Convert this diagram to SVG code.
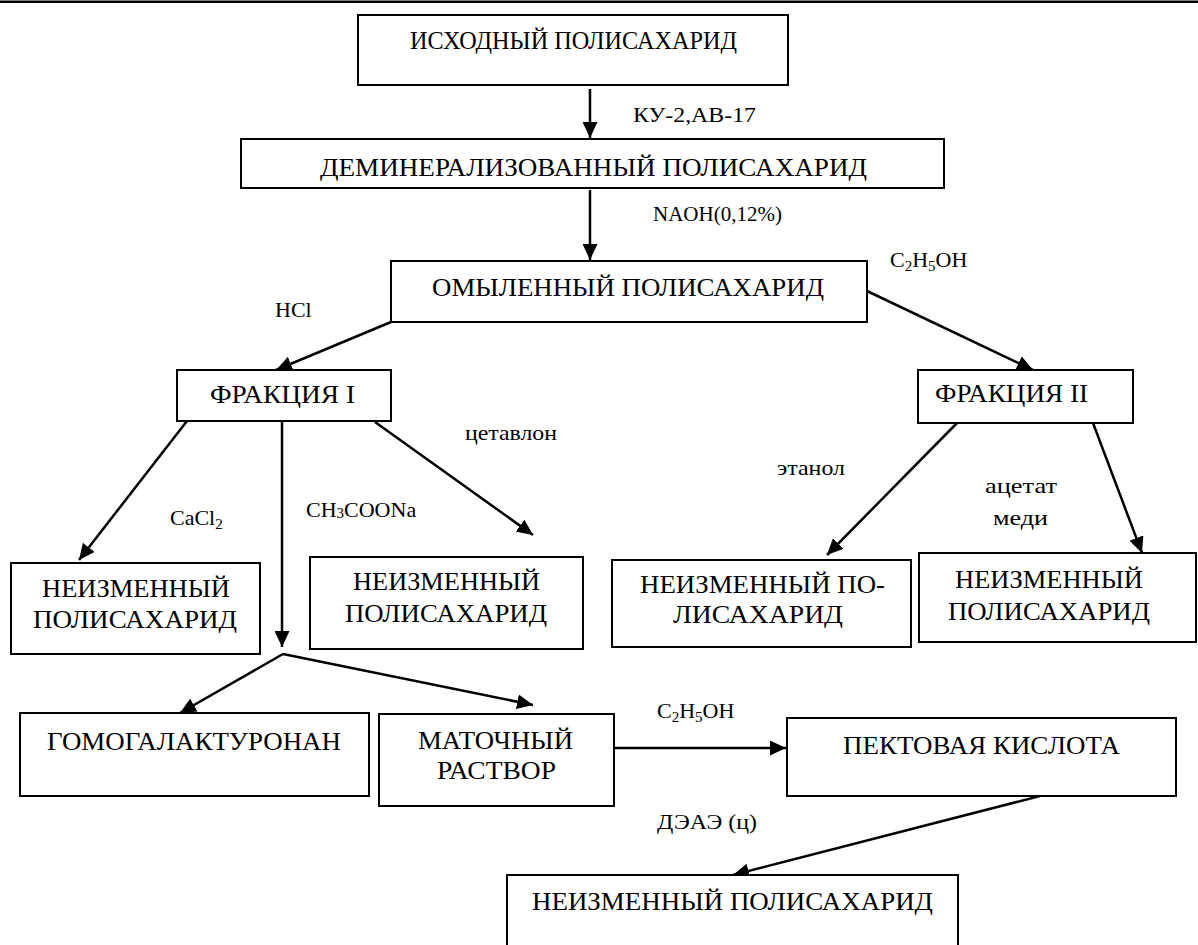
<svg xmlns="http://www.w3.org/2000/svg" width="1198" height="945" viewBox="0 0 1198 945">
<style>
.box{fill:#fff;stroke:#000;stroke-width:2}
.t{font-family:"Liberation Serif","Times New Roman",serif;font-size:26px;fill:#000}
.l{font-family:"Liberation Serif","Times New Roman",serif;font-size:22px;fill:#000}
.s{font-size:15px}
.c{fill:none;stroke:#000;stroke-width:2.5}
</style>
<defs>
<marker id="ah" markerUnits="userSpaceOnUse" markerWidth="17" markerHeight="15" refX="16" refY="7.5" orient="auto">
<path d="M0,0 L16,7.5 L0,15 Z" fill="#000"/>
</marker>
</defs>
<rect x="0" y="0.5" width="1198" height="2.5" fill="#000"/>

<g id="connectors">
<line class="c" x1="590" y1="89" x2="590" y2="138" marker-end="url(#ah)"/>
<line class="c" x1="590" y1="190" x2="590" y2="260" marker-end="url(#ah)"/>
<line class="c" x1="391" y1="322" x2="276" y2="370" marker-end="url(#ah)"/>
<line class="c" x1="867" y1="291" x2="1033" y2="370" marker-end="url(#ah)"/>
<line class="c" x1="187" y1="421" x2="79" y2="560" marker-end="url(#ah)"/>
<line class="c" x1="282" y1="421" x2="282" y2="647" marker-end="url(#ah)"/>
<line class="c" x1="375" y1="422" x2="533" y2="535" marker-end="url(#ah)"/>
<line class="c" x1="957" y1="423" x2="827" y2="555" marker-end="url(#ah)"/>
<line class="c" x1="1093" y1="423" x2="1142" y2="553" marker-end="url(#ah)"/>
<line class="c" x1="283" y1="654" x2="180" y2="713" marker-end="url(#ah)"/>
<line class="c" x1="283" y1="654" x2="533" y2="705" marker-end="url(#ah)"/>
<line class="c" x1="614" y1="748" x2="786" y2="748" marker-end="url(#ah)"/>
<line class="c" x1="1040" y1="796" x2="733" y2="875" marker-end="url(#ah)"/>
</g>

<g id="labels">
<text class="l" x="633" y="122" textLength="123" lengthAdjust="spacingAndGlyphs">КУ-2,АВ-17</text>
<text class="l" x="653" y="221" textLength="129" lengthAdjust="spacingAndGlyphs">NAOH(0,12%)</text>
<text class="l" x="275" y="317">HCl</text>
<text class="l" x="890" y="267">C<tspan class="s" dy="4">2</tspan><tspan dy="-4">H</tspan><tspan class="s" dy="4">5</tspan><tspan dy="-4">OH</tspan></text>
<text class="l" x="465" y="440" textLength="92" lengthAdjust="spacingAndGlyphs">цетавлон</text>
<text class="l" x="170" y="525">CaCl<tspan class="s" dy="4">2</tspan></text>
<text class="l" x="306" y="517">CH<tspan class="s" dy="1">3</tspan><tspan dy="-1">COONa</tspan></text>
<text class="l" x="777" y="475" textLength="68" lengthAdjust="spacingAndGlyphs">этанол</text>
<text class="l" x="985" y="493" textLength="72" lengthAdjust="spacingAndGlyphs">ацетат</text>
<text class="l" x="993" y="525" textLength="55" lengthAdjust="spacingAndGlyphs">меди</text>
<text class="l" x="657" y="718">C<tspan class="s" dy="4">2</tspan><tspan dy="-4">H</tspan><tspan class="s" dy="4">5</tspan><tspan dy="-4">OH</tspan></text>
<text class="l" x="657" y="829" textLength="100" lengthAdjust="spacingAndGlyphs">ДЭАЭ (ц)</text>
</g>

<g id="n1"><rect class="box" x="358" y="15" width="430" height="70"/>
<text class="t" x="410" y="49" textLength="327" lengthAdjust="spacingAndGlyphs">ИСХОДНЫЙ ПОЛИСАХАРИД</text></g>

<g id="n2"><rect class="box" x="241" y="139" width="703" height="49"/>
<text class="t" x="320" y="176" textLength="547" lengthAdjust="spacingAndGlyphs">ДЕМИНЕРАЛИЗОВАННЫЙ ПОЛИСАХАРИД</text></g>

<g id="n3"><rect class="box" x="391" y="261" width="476" height="61"/>
<text class="t" x="432" y="296" textLength="392" lengthAdjust="spacingAndGlyphs">ОМЫЛЕННЫЙ ПОЛИСАХАРИД</text></g>

<g id="n4"><rect class="box" x="177" y="370" width="214" height="51"/>
<text class="t" x="210" y="403" textLength="145" lengthAdjust="spacingAndGlyphs">ФРАКЦИЯ I</text></g>

<g id="n5"><rect class="box" x="918" y="370" width="215" height="53"/>
<text class="t" x="935" y="402" textLength="153" lengthAdjust="spacingAndGlyphs">ФРАКЦИЯ II</text></g>

<g id="n6"><rect class="box" x="11" y="563" width="249" height="91"/>
<text class="t" x="42" y="597" textLength="188" lengthAdjust="spacingAndGlyphs">НЕИЗМЕННЫЙ</text>
<text class="t" x="33" y="628" textLength="204" lengthAdjust="spacingAndGlyphs">ПОЛИСАХАРИД</text></g>

<g id="n7"><rect class="box" x="310" y="557" width="273" height="92"/>
<text class="t" x="353" y="590" textLength="187" lengthAdjust="spacingAndGlyphs">НЕИЗМЕННЫЙ</text>
<text class="t" x="345" y="622" textLength="202" lengthAdjust="spacingAndGlyphs">ПОЛИСАХАРИД</text></g>

<g id="n8"><rect class="box" x="612" y="560" width="299" height="87"/>
<text class="t" x="640" y="593" textLength="245" lengthAdjust="spacingAndGlyphs">НЕИЗМЕННЫЙ ПО-</text>
<text class="t" x="673" y="623" textLength="170" lengthAdjust="spacingAndGlyphs">ЛИСАХАРИД</text></g>

<g id="n9"><rect class="box" x="919" y="553" width="277" height="89"/>
<text class="t" x="955" y="588" textLength="188" lengthAdjust="spacingAndGlyphs">НЕИЗМЕННЫЙ</text>
<text class="t" x="948" y="620" textLength="202" lengthAdjust="spacingAndGlyphs">ПОЛИСАХАРИД</text></g>

<g id="n10"><rect class="box" x="20" y="713" width="349" height="83"/>
<text class="t" x="47" y="750" textLength="294" lengthAdjust="spacingAndGlyphs">ГОМОГАЛАКТУРОНАН</text></g>

<g id="n11"><rect class="box" x="379" y="714" width="235" height="92"/>
<text class="t" x="418" y="749" textLength="155" lengthAdjust="spacingAndGlyphs">МАТОЧНЫЙ</text>
<text class="t" x="437" y="779" textLength="119" lengthAdjust="spacingAndGlyphs">РАСТВОР</text></g>

<g id="n12"><rect class="box" x="787" y="718" width="389" height="78"/>
<text class="t" x="843" y="754" textLength="277" lengthAdjust="spacingAndGlyphs">ПЕКТОВАЯ КИСЛОТА</text></g>

<g id="n13"><rect class="box" x="507" y="875" width="451" height="80"/>
<text class="t" x="532" y="910" textLength="401" lengthAdjust="spacingAndGlyphs">НЕИЗМЕННЫЙ ПОЛИСАХАРИД</text></g>
</svg>
